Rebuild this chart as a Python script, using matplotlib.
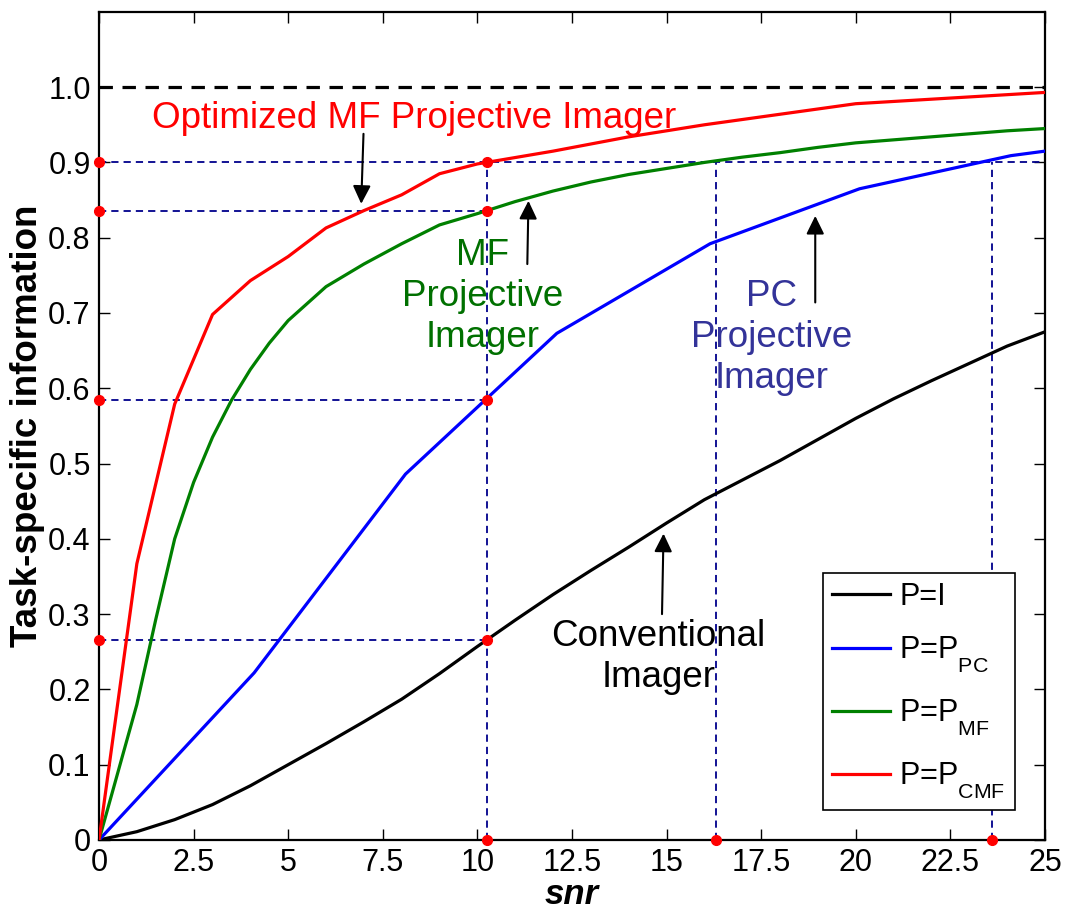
import matplotlib
matplotlib.use("Agg")
import matplotlib.pyplot as plt

plt.rcParams['font.family'] = ['Liberation Sans', 'DejaVu Sans']
plt.rcParams['mathtext.default'] = 'regular'

# deeper subscripts for the legend labels
try:
    from matplotlib import _mathtext
    _mathtext.FontConstantsBase.sub1 = 0.85
    _mathtext.FontConstantsBase.sub2 = 0.95
except Exception:
    pass

# Task-specific information versus snr for each projection
snr_conv = [0, 1, 2, 3, 4, 5, 6, 7, 8, 9, 10, 11, 12, 13, 14, 15, 16, 17,
            18, 19, 20, 21, 22, 23, 24, 25]
tsi_conv = [0, 0.011, 0.027, 0.047, 0.072, 0.100, 0.128, 0.157, 0.187,
            0.221, 0.257, 0.292, 0.326, 0.358, 0.389, 0.421, 0.452, 0.478,
            0.504, 0.532, 0.560, 0.586, 0.610, 0.633, 0.656, 0.675]

snr_pc = [0, 4.1, 8.1, 12.1, 16.15, 20.1, 24.1, 25]
tsi_pc = [0, 0.222, 0.486, 0.673, 0.792, 0.865, 0.909, 0.915]

snr_mf = [0, 0.5, 1, 1.5, 2, 2.5, 3, 3.5, 4, 4.5, 5, 6, 7, 8, 9, 10, 11,
          12, 13, 14, 15, 16, 17, 18, 19, 20, 21, 22, 23, 24, 25]
tsi_mf = [0, 0.09, 0.18, 0.293, 0.40, 0.475, 0.535, 0.584, 0.625, 0.66,
          0.69, 0.735, 0.765, 0.792, 0.817, 0.832, 0.848, 0.862, 0.874,
          0.884, 0.892, 0.900, 0.907, 0.913, 0.920, 0.926, 0.930, 0.934,
          0.938, 0.942, 0.945]

snr_cmf = [0, 1, 2, 3, 4, 5, 6, 7, 8, 9, 10, 12, 14, 16, 18, 20, 25]
tsi_cmf = [0, 0.367, 0.579, 0.698, 0.743, 0.775, 0.813, 0.836, 0.857,
           0.885, 0.898, 0.915, 0.934, 0.950, 0.964, 0.978, 0.993]

legend_labels = ['P=I', 'P=P$_{PC}$', 'P=P$_{MF}$', 'P=P$_{CMF}$']

# Reference levels highlighted with guide lines
snr_ref = 10.25
tsi_levels = [0.9, 0.835, 0.585, 0.265]
snr_at_09 = [10.25, 16.3, 23.6]

xticks = [0, 2.5, 5, 7.5, 10, 12.5, 15, 17.5, 20, 22.5, 25]
xticklabels = ['0', '2.5', '5', '7.5', '10', '12.5', '15', '17.5', '20',
               '22.5', '25']
yticks = [0, 0.1, 0.2, 0.3, 0.4, 0.5, 0.6, 0.7, 0.8, 0.9, 1.0]
yticklabels = ['0', '0.1', '0.2', '0.3', '0.4', '0.5', '0.6', '0.7', '0.8',
               '0.9', '1.0']

fig = plt.figure(figsize=(10.67, 9.13), dpi=100)
ax = fig.add_axes([0.0928, 0.080, 0.8865, 0.907])

guide = dict(color='#00008B', lw=1.3, dashes=(4.0, 2.8), zorder=2)

# upper bound
ax.axhline(1.0, color='black', lw=2.3, dashes=(4.2, 3.0), zorder=2)

# guide lines
ax.plot([0, 25], [tsi_levels[0], tsi_levels[0]], **guide)
for lv in tsi_levels[1:]:
    ax.plot([0, snr_ref], [lv, lv], **guide)
for s in snr_at_09:
    ax.plot([s, s], [0, tsi_levels[0]], **guide)

# curves
h1, = ax.plot(snr_conv, tsi_conv, color='black', lw=2.3, zorder=3)
h2, = ax.plot(snr_pc, tsi_pc, color='#0000FF', lw=2.3, zorder=3)
h3, = ax.plot(snr_mf, tsi_mf, color='#008000', lw=2.3, zorder=3)
h4, = ax.plot(snr_cmf, tsi_cmf, color='#FF0000', lw=2.3, zorder=3)

# red markers at the reference points
mk = dict(marker='o', ms=7, color='#FF0000', ls='none', clip_on=False,
          zorder=5)
ax.plot([0] * len(tsi_levels), tsi_levels, **mk)
ax.plot([snr_ref] * len(tsi_levels), tsi_levels, **mk)
ax.plot(snr_at_09, [0] * len(snr_at_09), **mk)

# annotations
arrow = dict(arrowstyle='-|>,head_length=0.55,head_width=0.27',
             color='black', lw=1.5, mutation_scale=20, shrinkA=0, shrinkB=0)
fs_note = 26.5
ax.text(1.4, 0.958, 'Optimized MF Projective Imager', color='#FF0000',
        fontsize=fs_note, ha='left', va='center')
ax.annotate('', xy=(6.93, 0.845), xytext=(6.99, 0.938), arrowprops=arrow)

ax.text(10.14, 0.722, 'MF\nProjective\nImager', color='#007000',
        fontsize=fs_note, ha='center', va='center', linespacing=1.22)
ax.annotate('', xy=(11.35, 0.849), xytext=(11.32, 0.765), arrowprops=arrow)

ax.text(17.77, 0.668, 'PC\nProjective\nImager', color='#333399',
        fontsize=fs_note, ha='center', va='center', linespacing=1.22)
ax.annotate('', xy=(18.93, 0.829), xytext=(18.93, 0.714), arrowprops=arrow)

ax.text(14.78, 0.243, 'Conventional\nImager', color='black',
        fontsize=fs_note, ha='center', va='center', linespacing=1.22)
ax.annotate('', xy=(14.92, 0.407), xytext=(14.88, 0.300), arrowprops=arrow)

# axes styling
ax.set_xlim(0, 25)
ax.set_ylim(0, 1.1)
ax.set_xticks(xticks)
ax.set_xticklabels(xticklabels)
ax.set_yticks(yticks)
ax.set_yticklabels(yticklabels)
ax.tick_params(direction='in', length=8, width=1.0, labelsize=22,
               top=True, right=True, pad=6)
for sp in ax.spines.values():
    sp.set_linewidth(1.6)

ax.set_xlabel('snr', fontsize=25, fontweight='bold', fontstyle='italic',
              labelpad=0)
ax.set_ylabel('Task-specific information', fontsize=26.5, fontweight='bold',
              labelpad=2)

leg = ax.legend([h1, h2, h3, h4], legend_labels, loc='lower right',
                bbox_to_anchor=(0.968, 0.036), fontsize=22, frameon=True,
                fancybox=False, edgecolor='black', framealpha=1,
                handlelength=1.9, handletextpad=0.3, labelspacing=0.74,
                borderpad=0.3, borderaxespad=0)
leg.get_frame().set_linewidth(1.2)

fig.savefig('out.png', dpi=100)
